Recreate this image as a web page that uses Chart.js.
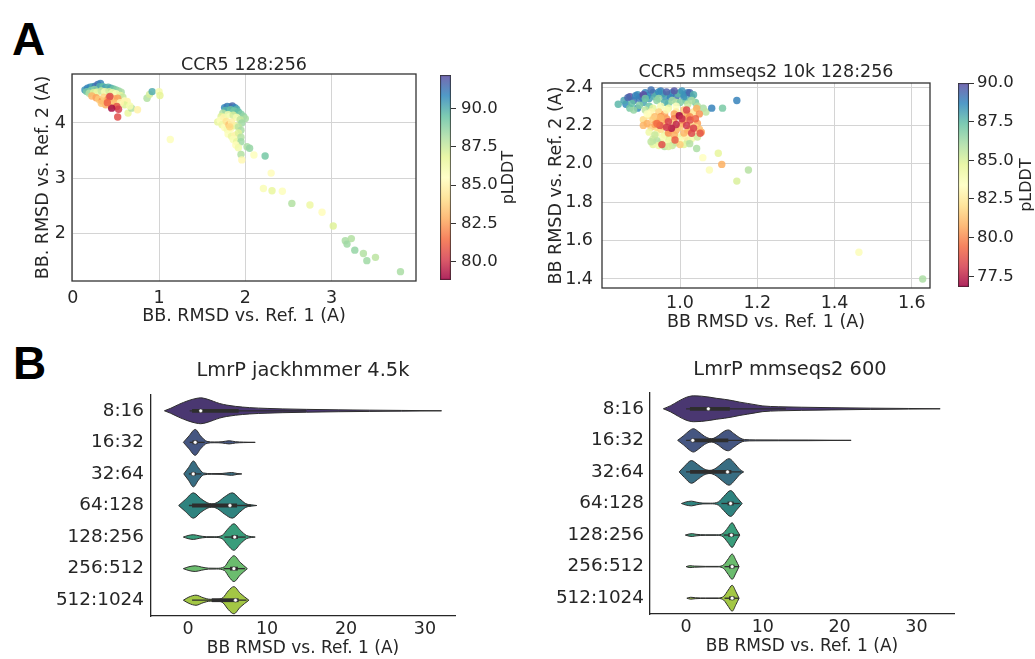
<!DOCTYPE html>
<html>
<head>
<meta charset="utf-8">
<script src="https://cdn.jsdelivr.net/npm/chart.js@4.4.1/dist/chart.umd.min.js"></script>
<style>
  html, body { margin: 0; padding: 0; background: #fff; }
  #page { position: relative; width: 1035px; height: 659px; overflow: hidden; background: #fff; }
  canvas { position: absolute; }
  .panel { position: absolute; font-family: 'Liberation Sans', Arial, sans-serif; font-weight: bold; font-size: 46px; line-height: 46px; color: #000; }
</style>
</head>
<body>
<div id="page">
  <div class="panel" style="left:12px; top:16px;">A</div>
  <div class="panel" style="left:13px; top:340px;">B</div>
  <canvas id="scatterJack" width="400" height="282" style="left:20px; top:48px;"></canvas>
  <canvas id="cbarJack" width="95" height="235" style="left:430px; top:60px;"></canvas>
  <canvas id="scatterMm" width="395" height="280" style="left:540px; top:55px;"></canvas>
  <canvas id="cbarMm" width="87" height="230" style="left:948px; top:70px;"></canvas>
  <canvas id="violinJack" width="470" height="304" style="left:0px; top:355px;"></canvas>
  <canvas id="violinMm" width="580" height="304" style="left:500px; top:355px;"></canvas>
</div>
<script>
// CCR5 128:256 (jackhmmer) models: [RMSD vs ref 1, RMSD vs ref 2, pLDDT]
const ccr5JackPoints = [
  [0.14,4.60,90.5],[0.17,4.63,91.0],[0.20,4.65,90.8],[0.23,4.66,90.2],[0.26,4.67,91.2],[0.29,4.70,91.5],
  [0.32,4.72,91.0],[0.31,4.66,90.0],[0.35,4.66,89.6],[0.38,4.64,90.4],[0.41,4.65,89.8],[0.44,4.63,90.2],
  [0.47,4.62,89.4],[0.50,4.60,89.0],[0.53,4.58,88.6],[0.16,4.57,89.2],[0.21,4.59,89.0],[0.25,4.61,88.8],
  [0.56,4.56,88.2],
  [0.19,4.54,88.0],[0.24,4.55,87.0],[0.28,4.56,86.5],[0.33,4.58,87.5],[0.37,4.57,86.0],[0.42,4.57,87.2],
  [0.46,4.55,86.4],[0.50,4.53,85.8],[0.55,4.50,86.6],[0.58,4.47,87.6],[0.60,4.40,85.3],[0.63,4.39,85.0],
  [0.60,4.33,87.0],[0.64,4.18,86.6],[0.68,4.27,88.0],[0.66,4.31,86.0],[0.75,4.24,84.9],
  [0.22,4.49,83.0],[0.27,4.46,82.6],[0.30,4.43,83.5],[0.34,4.40,82.2],[0.36,4.47,83.8],[0.40,4.42,83.0],
  [0.42,4.46,82.0],[0.45,4.38,83.2],[0.48,4.44,83.2],[0.52,4.45,82.5],[0.38,4.33,82.8],[0.33,4.36,83.4],
  [0.44,4.31,83.6],[0.50,4.36,83.4],[0.55,4.37,85.0],
  [0.43,4.48,80.5],[0.51,4.30,80.8],[0.53,4.25,80.2],[0.52,4.11,80.6],[0.45,4.27,79.0],[0.40,4.37,81.2],
  [0.86,4.45,88.0],[0.89,4.52,87.2],[0.92,4.57,90.0],[1.00,4.57,86.0],[1.01,4.50,86.8],[1.13,3.70,85.6],
  [1.76,4.28,90.8],[1.79,4.30,91.2],[1.82,4.29,90.5],[1.85,4.31,91.6],[1.88,4.28,90.9],[1.90,4.25,90.0],
  [1.77,4.23,89.8],[1.83,4.24,89.5],[1.87,4.22,89.2],[1.92,4.20,89.6],[1.95,4.16,89.0],[1.98,4.12,88.6],
  [2.00,4.08,88.2],
  [1.74,4.18,88.0],[1.72,4.12,87.0],[1.68,4.02,86.6],[1.71,4.05,85.6],[1.75,4.10,85.0],[1.80,4.15,86.2],
  [1.86,4.14,87.2],[1.90,4.10,86.0],[1.94,4.06,87.6],[1.96,4.00,88.4],[1.73,3.97,86.4],[1.76,3.92,85.4],
  [1.79,3.88,86.0],[1.83,3.90,85.2],[1.88,3.95,86.8],[1.92,3.93,87.8],[1.95,3.87,88.2],[1.80,3.80,85.6],
  [1.84,3.76,86.4],[1.88,3.78,85.0],[1.92,3.82,87.0],[1.86,3.70,85.8],[1.90,3.66,86.6],[1.95,3.74,88.0],
  [1.95,3.66,88.4],[1.89,3.60,85.4],[1.92,3.55,86.2],
  [1.78,4.03,84.4],[1.81,3.97,83.4],[1.84,4.02,84.8],[1.82,3.93,84.0],
  [2.02,3.57,88.2],[2.05,3.54,88.6],[1.95,3.43,88.0],[2.10,3.42,85.6],[1.96,3.33,85.2],[2.23,3.40,89.2],
  [2.30,3.09,85.4],[2.21,2.81,85.8],[2.31,2.77,86.6],[2.43,2.76,85.6],[2.54,2.54,88.0],[2.75,2.51,86.4],
  [2.89,2.38,85.4],[3.02,2.13,87.0],[3.16,1.86,88.2],[3.23,1.90,88.0],[3.18,1.80,88.4],[3.27,1.69,88.6],
  [3.37,1.63,88.0],[3.41,1.50,88.4],[3.51,1.56,87.8],[3.80,1.30,88.2]
];

// CCR5 mmseqs2 10k 128:256 models: [RMSD vs ref 1, RMSD vs ref 2, pLDDT]
const ccr5MmPoints = [
  [0.84,2.31,87.6],[0.87,2.35,90.0],[0.86,2.31,88.6],[0.88,2.33,89.2],[0.89,2.36,88.4],[0.90,2.35,89.6],
  [0.91,2.37,88.8],[0.92,2.34,88.2],[0.93,2.37,89.4],[0.94,2.36,88.0],[0.95,2.38,89.0],[0.96,2.35,88.4],
  [0.97,2.36,87.6],[0.98,2.37,88.6],[0.99,2.35,89.2],[1.00,2.37,88.0],[1.01,2.36,88.8],[1.02,2.37,89.0],
  [1.03,2.35,88.2],[1.015,2.33,87.4],[0.905,2.32,88.0],[0.89,2.29,88.6],[0.87,2.29,87.0],[0.88,2.28,86.4],
  [0.855,2.33,88.0],[0.875,2.315,87.4],[0.895,2.34,89.0],[0.915,2.355,88.6],[0.935,2.35,87.8],[0.955,2.365,88.2],
  [0.975,2.345,88.8],[0.995,2.365,87.6],[1.01,2.35,88.4],[1.025,2.37,89.4],[0.985,2.38,89.8],[0.925,2.385,89.2],
  [0.865,2.345,89.4],[0.885,2.355,88.8],[0.905,2.36,90.0],[0.945,2.375,88.6],[0.965,2.375,89.6],[1.005,2.38,88.4],
  [1.035,2.36,87.8],[0.895,2.305,86.8],[0.91,2.34,87.2],[0.945,2.34,86.4],[0.97,2.315,87.0],[0.99,2.32,85.6],
  [1.02,2.31,85.4],[1.04,2.32,87.0],
  [0.92,2.30,87.2],[0.94,2.33,86.6],[0.96,2.32,87.8],[0.98,2.33,86.2],[1.00,2.32,86.8],[1.03,2.33,86.0],
  [1.045,2.30,85.8],[1.06,2.29,86.0],[1.067,2.27,85.6],[1.082,2.29,88.8],[1.11,2.29,87.0],[1.147,2.33,88.8],
  [0.93,2.29,84.6],[0.95,2.30,83.8],[0.97,2.29,84.2],[0.99,2.30,83.4],[0.945,2.27,81.8],[0.96,2.26,80.6],
  [0.92,2.25,82.4],[0.94,2.22,80.4],[0.99,2.27,82.6],[1.01,2.28,81.4],[0.96,2.15,84.6],[0.93,2.13,85.2],
  [0.94,2.16,84.0],[0.97,2.13,84.8],[0.99,2.11,85.6],[1.00,2.14,84.4],[1.02,2.12,85.4],[0.95,2.11,85.0],
  [0.93,2.10,84.6],[0.96,2.09,85.8],[1.043,2.08,86.0],[1.02,2.17,80.8],
  [0.91,2.28,85.6],[0.925,2.27,83.0],[0.965,2.28,83.6],[0.985,2.26,80.6],[1.005,2.25,81.2],[1.02,2.26,80.8],
  [1.035,2.27,82.4],[0.905,2.23,82.0],[0.925,2.19,81.6],[0.94,2.19,82.0],[0.955,2.14,83.8],[0.975,2.12,84.2],
  [1.015,2.14,82.8],[1.03,2.13,84.0],[1.04,2.16,83.2],[0.94,2.12,85.8],[0.965,2.105,84.0],[0.98,2.095,85.4],
  [1.01,2.10,84.8],[0.95,2.245,80.2],[1.045,2.21,80.6],[1.055,2.165,80.4],
  [0.915,2.26,83.4],[0.935,2.245,81.2],[0.955,2.225,80.8],[0.905,2.20,81.0],[0.92,2.165,84.2],[0.935,2.15,85.4],
  [0.965,2.235,80.4],[0.985,2.235,79.8],[1.005,2.21,80.2],[1.025,2.245,80.0],[1.04,2.19,82.0],[1.045,2.14,85.2],
  [0.975,2.175,81.6],[0.99,2.175,80.8],[1.01,2.16,81.0],[0.925,2.115,85.6],[0.945,2.095,84.2],[0.97,2.09,85.0],
  [1.00,2.12,83.6],[1.025,2.105,85.8],
  [0.915,2.21,80.8],[0.93,2.23,81.6],[0.95,2.24,81.0],[0.96,2.20,80.6],[0.98,2.21,81.8],[0.97,2.16,80.2],
  [1.00,2.19,81.4],[1.01,2.23,80.4],[1.043,2.289,80.8],[1.05,2.18,81.2],[0.95,2.18,82.0],[1.03,2.20,81.8],
  [0.985,2.15,80.8],[1.00,2.10,81.6],[0.955,2.195,81.4],[1.025,2.18,81.0],[0.935,2.205,80.6],[1.05,2.26,80.2],
  [0.948,2.20,78.6],[0.97,2.22,78.2],[0.978,2.185,77.2],[0.998,2.25,76.9],[1.017,2.28,78.4],[1.026,2.228,78.6],
  [1.017,2.20,78.0],[1.03,2.159,78.4],[1.052,2.159,78.8],[0.953,2.10,78.6],[0.987,2.124,79.0],[0.99,2.205,77.6],
  [1.04,2.235,79.2],[0.965,2.19,78.0],[1.005,2.235,77.8],[0.94,2.21,79.4],[1.035,2.185,78.2],
  [1.059,2.032,83.4],[1.099,2.055,84.6],[1.108,1.997,80.8],[1.076,1.968,83.6],[1.147,1.91,85.0],[1.177,1.968,85.8],
  [1.463,1.539,83.6],[1.628,1.40,86.0]
];

// colour bar limits and ticks (pLDDT)
const plddtRangeJack = [78.8, 92.2];
const plddtTicksJack = [80, 82.5, 85, 87.5, 90];
const plddtRangeMm = [76.8, 90.0];
const plddtTicksMm = [77.5, 80, 82.5, 85, 87.5, 90];

// scatter axis ticks
const jackXTicks = [0, 1, 2, 3];
const jackYTicks = [2, 3, 4];
const mmXTicks = [1.0, 1.2, 1.4, 1.6];
const mmYTicks = [1.4, 1.6, 1.8, 2.0, 2.2, 2.4];

// LmrP subsampling sizes
const sizeLabels = ['8:16', '16:32', '32:64', '64:128', '128:256', '256:512', '512:1024'];
const violinXTicks = [0, 10, 20, 30];

// violin outlines: RMSD positions and half widths (in row units)
const jackX = [
  [-3.0, -2.2, -1.2, 0.0, 1.0, 1.6, 2.4, 3.2, 4.0, 4.9, 6.0, 7.8, 10, 12, 15, 19, 23, 27, 32.1],
  [-0.6, 0.1, 0.9, 1.6, 2.4, 3.3, 4.3, 5.2, 6.0, 7.0, 8.5],
  [-0.55, 0.05, 0.67, 1.3, 1.95, 3.0, 4.3, 5.5, 6.2, 6.8],
  [-1.2, -0.3, 0.67, 1.6, 2.4, 3.0, 3.7, 4.6, 5.6, 6.5, 7.3, 8.0, 8.7],
  [-0.6, 0.0, 0.67, 1.4, 2.3, 3.3, 4.3, 5.0, 5.8, 6.6, 7.4, 8.0, 8.5],
  [-0.6, 0.1, 0.9, 1.7, 2.6, 3.6, 4.6, 5.2, 5.8, 6.6, 7.5],
  [-0.6, 0.1, 1.0, 1.9, 2.8, 3.6, 4.4, 5.1, 5.8, 6.6, 7.7]
];
const jackW = [
  [0, 0.08, 0.20, 0.32, 0.39, 0.41, 0.37, 0.30, 0.23, 0.18, 0.14, 0.10, 0.075, 0.06, 0.045, 0.03, 0.02, 0.012, 0],
  [0, 0.2, 0.41, 0.2, 0.03, 0.012, 0.02, 0.05, 0.02, 0.008, 0],
  [0, 0.2, 0.41, 0.2, 0.03, 0.01, 0.015, 0.045, 0.015, 0],
  [0, 0.2, 0.40, 0.22, 0.09, 0.05, 0.1, 0.27, 0.40, 0.22, 0.06, 0.02, 0],
  [0, 0.05, 0.075, 0.04, 0.012, 0.01, 0.05, 0.25, 0.42, 0.22, 0.05, 0.015, 0],
  [0, 0.06, 0.09, 0.05, 0.015, 0.012, 0.06, 0.27, 0.41, 0.2, 0],
  [0, 0.1, 0.16, 0.08, 0.03, 0.03, 0.08, 0.3, 0.43, 0.22, 0]
];
// inner box: [whisker low, q1, median, q3, whisker high]
const jackBox = [
  [0.2, 0.5, 1.6, 6.4, 15.0],
  [0.2, 0.55, 0.9, 1.2, 2.1],
  [0.1, 0.4, 0.65, 0.95, 1.7],
  [0.1, 0.5, 5.3, 6.2, 8.0],
  [4.6, 5.5, 5.9, 6.3, 7.3],
  [4.5, 5.3, 5.8, 6.3, 7.2],
  [0.5, 3.0, 6.0, 6.4, 7.4]
];

const mmX = [
  [-2.96, -2.0, -1.0, 0.0, 1.0, 2.0, 3.0, 4.0, 5.0, 6.0, 7.0, 8.0, 9.0, 10.0, 12.0, 15.0, 19.0, 24.0, 29.0, 33.1],
  [-1.1, -0.3, 0.4, 0.95, 1.6, 2.4, 3.3, 4.2, 4.9, 5.5, 6.2, 7.0, 7.6, 9, 12, 16, 21.5],
  [-0.9, -0.2, 0.7, 1.5, 2.3, 3.1, 3.9, 4.7, 5.6, 6.4, 7.0, 7.5],
  [-0.6, 0.0, 0.7, 1.4, 2.2, 3.2, 4.2, 4.9, 5.8, 6.6, 7.3],
  [-0.1, 0.4, 0.8, 1.3, 2.5, 4.0, 4.8, 5.4, 6.0, 6.5, 7.0],
  [0.0, 0.5, 1.1, 2.5, 4.2, 4.9, 5.5, 6.0, 6.5, 6.9],
  [0.1, 0.6, 1.2, 2.5, 4.2, 4.9, 5.5, 6.0, 6.5, 6.9]
];
const mmW = [
  [0, 0.10, 0.24, 0.36, 0.41, 0.40, 0.37, 0.33, 0.30, 0.26, 0.21, 0.17, 0.13, 0.09, 0.065, 0.05, 0.035, 0.02, 0.01, 0],
  [0, 0.15, 0.30, 0.37, 0.28, 0.13, 0.05, 0.15, 0.28, 0.33, 0.22, 0.08, 0.025, 0.015, 0.012, 0.01, 0],
  [0, 0.18, 0.36, 0.24, 0.10, 0.05, 0.12, 0.28, 0.42, 0.25, 0.08, 0],
  [0, 0.05, 0.075, 0.04, 0.012, 0.01, 0.05, 0.22, 0.41, 0.2, 0],
  [0, 0.035, 0.045, 0.025, 0.008, 0.008, 0.05, 0.22, 0.39, 0.2, 0],
  [0, 0.03, 0.018, 0.008, 0.008, 0.06, 0.25, 0.40, 0.2, 0],
  [0, 0.03, 0.015, 0.007, 0.008, 0.06, 0.26, 0.41, 0.2, 0]
];
const mmBox = [
  [0.0, 0.5, 2.9, 5.7, 13.0],
  [0.0, 0.7, 0.87, 5.5, 7.5],
  [0.0, 0.52, 5.4, 5.9, 7.2],
  [4.6, 5.4, 5.8, 6.2, 7.0],
  [4.9, 5.5, 5.9, 6.2, 6.9],
  [5.0, 5.6, 6.0, 6.3, 6.9],
  [5.0, 5.6, 6.0, 6.3, 6.9]
];

const TEXT = '#262626';
const EDGE = '#2e2e2e';
const SPECTRAL = ['#9e0142', '#d53e4f', '#f46d43', '#fdae61', '#fee08b', '#ffffbf',
                  '#e6f598', '#abdda4', '#66c2a5', '#3288bd', '#5e4fa2'];
const VIRIDIS7 = ['#472d7b', '#3b528b', '#2c728e', '#21918c', '#28ae80', '#5ec962', '#addc30'];
const POINT_ALPHA = 0.85;

Chart.defaults.font.family = "'DejaVu Sans', 'Liberation Sans', sans-serif";
Chart.defaults.color = TEXT;
Chart.defaults.animation = false;
Chart.defaults.events = [];
Chart.defaults.plugins.legend.display = false;
Chart.defaults.plugins.tooltip.enabled = false;

function hexRgb(hex) {
  return [1, 3, 5].map(i => parseInt(hex.slice(i, i + 2), 16));
}

function spectral(t, alpha) {
  t = Math.min(1, Math.max(0, t)) * 10;
  const i = Math.min(9, Math.floor(t)), f = t - i;
  const a = hexRgb(SPECTRAL[i]), b = hexRgb(SPECTRAL[i + 1]);
  const c = a.map((v, k) => Math.round(v + (b[k] - v) * f));
  return `rgba(${c[0]},${c[1]},${c[2]},${alpha})`;
}

// seaborn-style desaturation in HLS space
function desaturate(hex, prop) {
  const [r, g, b] = hexRgb(hex).map(v => v / 255);
  const max = Math.max(r, g, b), min = Math.min(r, g, b);
  const l = (max + min) / 2;
  let h = 0, s = 0;
  if (max !== min) {
    const d = max - min;
    s = l > 0.5 ? d / (2 - max - min) : d / (max + min);
    if (max === r) h = (g - b) / d + (g < b ? 6 : 0);
    else if (max === g) h = (b - r) / d + 2;
    else h = (r - g) / d + 4;
    h /= 6;
  }
  s *= prop;
  const q = l < 0.5 ? l * (1 + s) : l + s - l * s;
  const p = 2 * l - q;
  const hue = t => {
    if (t < 0) t += 1;
    if (t > 1) t -= 1;
    if (t < 1 / 6) return p + (q - p) * 6 * t;
    if (t < 1 / 2) return q;
    if (t < 2 / 3) return p + (q - p) * (2 / 3 - t) * 6;
    return p;
  };
  const out = [hue(h + 1 / 3), hue(h), hue(h - 1 / 3)].map(v => Math.round(v * 255));
  return `rgb(${out[0]},${out[1]},${out[2]})`;
}

const violinColors = VIRIDIS7.map(c => desaturate(c, 0.75));

const fixedTicks = values => scale => { scale.ticks = values.map(v => ({ value: v })); };

const framePlugin = {
  id: 'frame',
  afterDatasetsDraw(chart) {
    const { ctx, chartArea: a } = chart;
    ctx.save();
    ctx.strokeStyle = '#333';
    ctx.lineWidth = 1.3;
    ctx.strokeRect(a.left, a.top, a.right - a.left, a.bottom - a.top);
    ctx.restore();
  }
};

const cbarTitlePlugin = {
  id: 'cbarTitle',
  afterDraw(chart, args, opts) {
    const { ctx, chartArea: a } = chart;
    ctx.save();
    ctx.translate(a.right + opts.offset, (a.top + a.bottom) / 2);
    ctx.rotate(-Math.PI / 2);
    ctx.font = "16px 'DejaVu Sans'";
    ctx.fillStyle = TEXT;
    ctx.textAlign = 'center';
    ctx.textBaseline = 'middle';
    ctx.fillText(opts.text, 0, 0);
    ctx.restore();
  }
};

function scatterChart(id, points, range, cfg) {
  return new Chart(document.getElementById(id), {
    type: 'scatter',
    data: {
      datasets: [{
        data: points.map(p => ({ x: p[0], y: p[1] })),
        backgroundColor: points.map(p => spectral((p[2] - range[0]) / (range[1] - range[0]), POINT_ALPHA)),
        borderWidth: 0,
        pointRadius: 3.7
      }]
    },
    options: {
      responsive: false,
      maintainAspectRatio: false,
      layout: { padding: cfg.padding },
      plugins: {
        title: {
          display: true, text: cfg.title, fullSize: false,
          font: { size: 17.5, weight: 'normal', lineHeight: 1 },
          padding: cfg.titlePad
        }
      },
      scales: {
        x: {
          type: 'linear', min: cfg.xRange[0], max: cfg.xRange[1],
          afterBuildTicks: fixedTicks(cfg.xTicks),
          afterFit: s => { s.height = cfg.xHeight; },
          grid: { color: '#d4d4d4', drawTicks: false },
          border: { display: false },
          ticks: { padding: cfg.xTickPad, font: { size: 17.5 }, maxRotation: 0, autoSkip: false, callback: cfg.xFmt },
          title: { display: true, text: cfg.xTitle, font: { size: 17.5 }, padding: { top: 0, bottom: cfg.xTitlePad } }
        },
        y: {
          type: 'linear', min: cfg.yRange[0], max: cfg.yRange[1],
          afterBuildTicks: fixedTicks(cfg.yTicks),
          afterFit: s => { s.width = cfg.yWidth; },
          grid: { color: '#d4d4d4', drawTicks: false },
          border: { display: false },
          ticks: { padding: cfg.yTickPad, font: { size: 17.5 }, autoSkip: false, callback: cfg.yFmt },
          title: { display: true, text: cfg.yTitle, font: { size: 17.5 }, padding: { top: cfg.yTitlePad, bottom: 0 } }
        }
      }
    },
    plugins: [framePlugin]
  });
}

function colorbarChart(id, range, ticks, cfg) {
  return new Chart(document.getElementById(id), {
    type: 'bar',
    data: {
      labels: [''],
      datasets: [{
        data: [range],
        backgroundColor: ctx => {
          const a = ctx.chart.chartArea;
          if (!a) return '#ccc';
          const g = ctx.chart.ctx.createLinearGradient(0, a.bottom, 0, a.top);
          SPECTRAL.forEach((c, k) => g.addColorStop(k / 10, spectral(k / 10, POINT_ALPHA)));
          return g;
        },
        borderColor: '#333',
        borderWidth: 1,
        borderSkipped: false,
        barPercentage: 1,
        categoryPercentage: 1
      }]
    },
    options: {
      responsive: false,
      maintainAspectRatio: false,
      layout: { padding: cfg.padding },
      plugins: { cbarTitle: { text: 'pLDDT', offset: 58 } },
      scales: {
        x: { display: false },
        y: {
          position: 'right', min: range[0], max: range[1],
          afterBuildTicks: fixedTicks(ticks),
          afterFit: s => { s.width = cfg.axisWidth; },
          grid: { drawOnChartArea: false, drawTicks: true, tickLength: 5, color: '#333' },
          border: { display: false },
          ticks: { padding: cfg.tickPad, font: { size: 16.5 }, autoSkip: false, callback: v => v.toFixed(1) }
        }
      }
    },
    plugins: [cbarTitlePlugin]
  });
}

function violinChart(id, profX, profW, boxes, cfg) {
  const datasets = [];
  sizeLabels.forEach((label, i) => {
    const xs = profX[i], ws = profW[i], b = boxes[i];
    const line = { showLine: true, pointRadius: 0, borderColor: EDGE, borderWidth: 1, cubicInterpolationMode: 'monotone', order: 3 };
    datasets.push({ ...line, data: xs.map((x, k) => ({ x, y: i - ws[k] })), fill: '+1', backgroundColor: violinColors[i] });
    datasets.push({ ...line, data: xs.map((x, k) => ({ x, y: i + ws[k] })), fill: false });
    datasets.push({ data: [{ x: b[0], y: i }, { x: b[4], y: i }], showLine: true, pointRadius: 0, borderColor: EDGE, borderWidth: 1.3, order: 2 });
    datasets.push({ data: [{ x: b[1], y: i }, { x: b[3], y: i }], showLine: true, pointRadius: 0, borderColor: EDGE, borderWidth: 3.8, borderCapStyle: 'butt', order: 2 });
    datasets.push({ data: [{ x: b[2], y: i }], pointRadius: 1.9, pointBackgroundColor: '#fff', pointBorderColor: EDGE, pointBorderWidth: 0.5, order: 1 });
  });

  const scales = {
    x: {
      type: 'linear', min: cfg.xRange[0], max: cfg.xRange[1],
      afterBuildTicks: fixedTicks(violinXTicks),
      afterFit: s => { s.height = cfg.xHeight; },
      grid: { display: false, drawTicks: false },
      border: { display: true, color: TEXT, width: 1.3 },
      ticks: { padding: cfg.xTickPad, font: { size: 17.5 }, maxRotation: 0, autoSkip: false },
      title: { display: true, text: 'BB RMSD vs. Ref. 1 (A)', font: { size: 17 }, padding: { top: 0, bottom: cfg.xTitlePad } }
    },
    y: {
      type: 'linear', min: -0.5, max: 6.5, reverse: true,
      afterBuildTicks: fixedTicks(sizeLabels.map((l, i) => i)),
      afterFit: s => { s.width = cfg.yWidth; },
      grid: { display: false, drawTicks: false },
      border: { display: true, color: TEXT, width: 1.3 },
      ticks: { padding: cfg.yTickPad, font: { size: 18.4 }, autoSkip: false, callback: v => sizeLabels[v] }
    }
  };
  // empty box on the right, only to shift the centred title
  if (cfg.rightGap) {
    scales.gap = {
      type: 'linear', position: 'right', axis: 'y',
      afterFit: s => { s.width = cfg.rightGap; },
      grid: { display: false, drawTicks: false },
      border: { display: false },
      ticks: { display: false }
    };
  }

  return new Chart(document.getElementById(id), {
    type: 'scatter',
    data: { datasets },
    options: {
      responsive: false,
      maintainAspectRatio: false,
      layout: { padding: cfg.padding },
      plugins: {
        filler: { drawTime: 'beforeDatasetsDraw' },
        title: {
          display: true, text: cfg.title, fullSize: cfg.titleFull,
          font: { size: 19.4, weight: 'normal', lineHeight: 1 },
          padding: cfg.titlePad
        }
      },
      scales
    }
  });
}

scatterChart('scatterJack', ccr5JackPoints, plddtRangeJack, {
  title: 'CCR5 128:256',
  padding: { left: 0, right: 2, top: 0, bottom: 0 },
  titlePad: { top: 8.25, bottom: 0.25 },
  xRange: [-0.01, 3.98], yRange: [1.13, 4.89],
  xTicks: jackXTicks, yTicks: jackYTicks,
  xFmt: v => String(v), yFmt: v => String(v),
  xHeight: 49, yWidth: 52,
  xTickPad: 6.5, yTickPad: 6,
  xTitle: 'BB. RMSD vs. Ref. 1 (A)', xTitlePad: 2.8,
  yTitle: 'BB. RMSD vs. Ref. 2 (A)', yTitlePad: 12.5
});

colorbarChart('cbarJack', plddtRangeJack, plddtTicksJack, {
  padding: { left: 10, right: 0, top: 15, bottom: 14 },
  axisWidth: 74, tickPad: 5
});

scatterChart('scatterMm', ccr5MmPoints, plddtRangeMm, {
  title: 'CCR5 mmseqs2 10k 128:256',
  padding: { left: 0, right: 5, top: 0, bottom: 0 },
  titlePad: { top: 8.55, bottom: 1.95 },
  xRange: [0.798, 1.647], yRange: [1.353, 2.421],
  xTicks: mmXTicks, yTicks: mmYTicks,
  xFmt: v => v.toFixed(1), yFmt: v => v.toFixed(1),
  xHeight: 47, yWidth: 62,
  xTickPad: 4.5, yTickPad: 9,
  xTitle: 'BB RMSD vs. Ref. 1 (A)', xTitlePad: 2.2,
  yTitle: 'BB RMSD vs. Ref. 2 (A)', yTitlePad: 5.5
});

colorbarChart('cbarMm', plddtRangeMm, plddtTicksMm, {
  padding: { left: 10, right: 0, top: 13, bottom: 12 },
  axisWidth: 66, tickPad: 3
});

violinChart('violinJack', jackX, jackW, jackBox, {
  title: 'LmrP jackhmmer 4.5k', titleFull: false,
  padding: { left: 0, right: 15, top: 0, bottom: 0 },
  titlePad: { top: 6.3, bottom: 14.3 },
  xRange: [-4.7, 33.8],
  xHeight: 43, yWidth: 151,
  xTickPad: 2.8, yTickPad: 7, xTitlePad: 0
});

violinChart('violinMm', mmX, mmW, mmBox, {
  title: 'LmrP mmseqs2 600', titleFull: true,
  padding: { left: 0, right: 0, top: 0, bottom: 0 },
  titlePad: { top: 5.3, bottom: 13.3 },
  xRange: [-4.7, 34.9],
  xHeight: 45, yWidth: 150, rightGap: 126,
  xTickPad: 3.3, yTickPad: 6, xTitlePad: 1.8
});
</script>
</body>
</html>
